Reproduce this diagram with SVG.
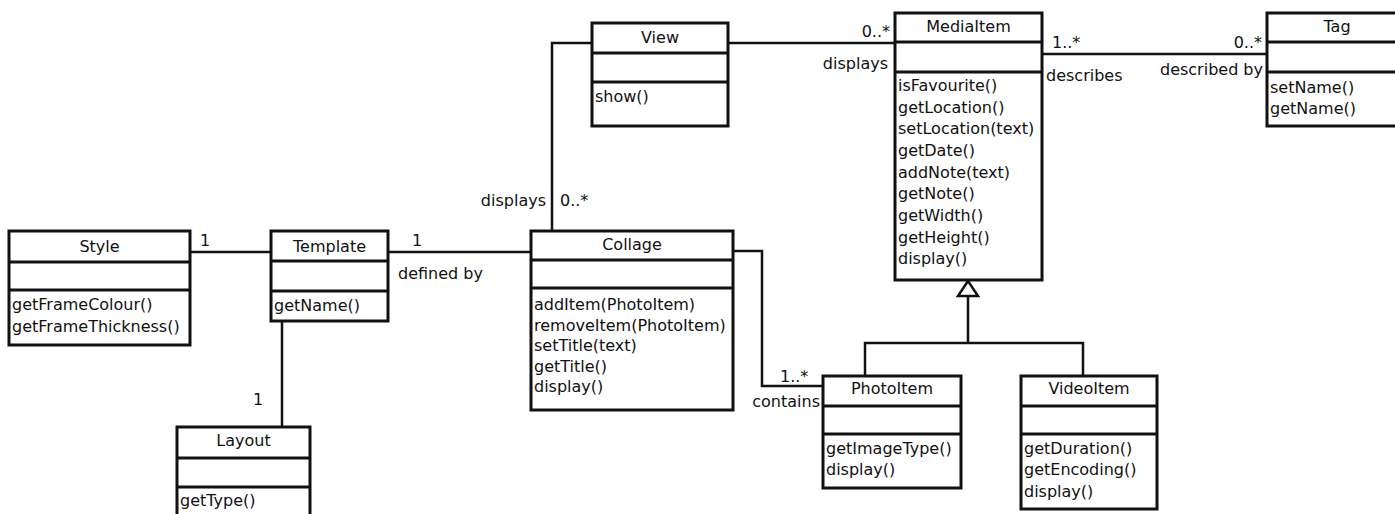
<svg xmlns="http://www.w3.org/2000/svg" width="1395" height="514" viewBox="0 0 1395 514">
<style>
text{font-family:"DejaVu Sans","Liberation Sans",sans-serif;font-size:16px;fill:#111}
.t{text-anchor:middle}
.e{text-anchor:end}
.box{fill:#fff;stroke:#111;stroke-width:3}
.div{stroke:#111;stroke-width:3}
.c{fill:none;stroke:#111;stroke-width:2.5}
</style>
<rect width="1395" height="514" fill="#fff"/>
<g id="connectors">
<path class="c" d="M190 252H271"/>
<path class="c" d="M388 252H531"/>
<path class="c" d="M282 321V427"/>
<path class="c" d="M592 43H552V231"/>
<path class="c" d="M728 43H895"/>
<path class="c" d="M1042 54H1267"/>
<path class="c" d="M733 251H762V386H823"/>
<path class="c" d="M968 296V343M865 376V343H1083V376"/>
<path d="M968 281L958 296H978Z" fill="#fff" stroke="#111" stroke-width="2.5"/>
<text x="200" y="246">1</text>
<text x="412" y="246">1</text>
<text x="398" y="279">defined by</text>
<text x="253" y="405">1</text>
<text class="e" x="546" y="206">displays</text>
<text x="560" y="206">0..*</text>
<text class="e" x="890" y="37">0..*</text>
<text class="e" x="888" y="69">displays</text>
<text x="1052" y="48">1..*</text>
<text class="e" x="1262" y="48">0..*</text>
<text x="1046" y="81">describes</text>
<text class="e" x="1263" y="75">described by</text>
<text x="780" y="382">1..*</text>
<text class="e" x="820" y="407">contains</text>
</g>
<g id="Style">
<rect class="box" x="9" y="231" width="181" height="114"/>
<path class="div" d="M9 262H190M9 290H190"/>
<text class="t" x="99.5" y="252">Style</text>
<text x="12" y="310">getFrameColour()</text>
<text x="12" y="332">getFrameThickness()</text>
</g>
<g id="Template">
<rect class="box" x="271" y="231" width="117" height="90"/>
<path class="div" d="M271 261H388M271 291H388"/>
<text class="t" x="329.5" y="252">Template</text>
<text x="274" y="311">getName()</text>
</g>
<g id="Layout">
<rect class="box" x="177" y="427" width="133" height="100"/>
<path class="div" d="M177 458H310M177 487H310"/>
<text class="t" x="243.5" y="446">Layout</text>
<text x="180" y="506">getType()</text>
</g>
<g id="Collage">
<rect class="box" x="531" y="231" width="202" height="179"/>
<path class="div" d="M531 260H733M531 288H733"/>
<text class="t" x="632" y="250">Collage</text>
<text x="534" y="310">addItem(PhotoItem)</text>
<text x="534" y="331">removeItem(PhotoItem)</text>
<text x="534" y="351">setTitle(text)</text>
<text x="534" y="372">getTitle()</text>
<text x="534" y="392">display()</text>
</g>
<g id="View">
<rect class="box" x="592" y="23" width="136" height="103"/>
<path class="div" d="M592 53H728M592 82H728"/>
<text class="t" x="660" y="43">View</text>
<text x="595" y="102">show()</text>
</g>
<g id="MediaItem">
<rect class="box" x="895" y="13" width="147" height="267"/>
<path class="div" d="M895 42H1042M895 72H1042"/>
<text class="t" x="968.5" y="32">MediaItem</text>
<text x="898" y="91">isFavourite()</text>
<text x="898" y="113">getLocation()</text>
<text x="898" y="134">setLocation(text)</text>
<text x="898" y="156">getDate()</text>
<text x="898" y="178">addNote(text)</text>
<text x="898" y="199">getNote()</text>
<text x="898" y="221">getWidth()</text>
<text x="898" y="243">getHeight()</text>
<text x="898" y="264">display()</text>
</g>
<g id="Tag">
<rect class="box" x="1267" y="13" width="143" height="113"/>
<path class="div" d="M1267 42H1410M1267 72H1410"/>
<text class="t" x="1337" y="32">Tag</text>
<text x="1270" y="93">setName()</text>
<text x="1270" y="114">getName()</text>
</g>
<g id="PhotoItem">
<rect class="box" x="823" y="376" width="138" height="112"/>
<path class="div" d="M823 406H961M823 434H961"/>
<text class="t" x="892" y="394">PhotoItem</text>
<text x="826" y="454">getImageType()</text>
<text x="826" y="475">display()</text>
</g>
<g id="VideoItem">
<rect class="box" x="1021" y="376" width="136" height="133"/>
<path class="div" d="M1021 406H1157M1021 434H1157"/>
<text class="t" x="1089" y="394">VideoItem</text>
<text x="1024" y="454">getDuration()</text>
<text x="1024" y="475">getEncoding()</text>
<text x="1024" y="497">display()</text>
</g>
</svg>
